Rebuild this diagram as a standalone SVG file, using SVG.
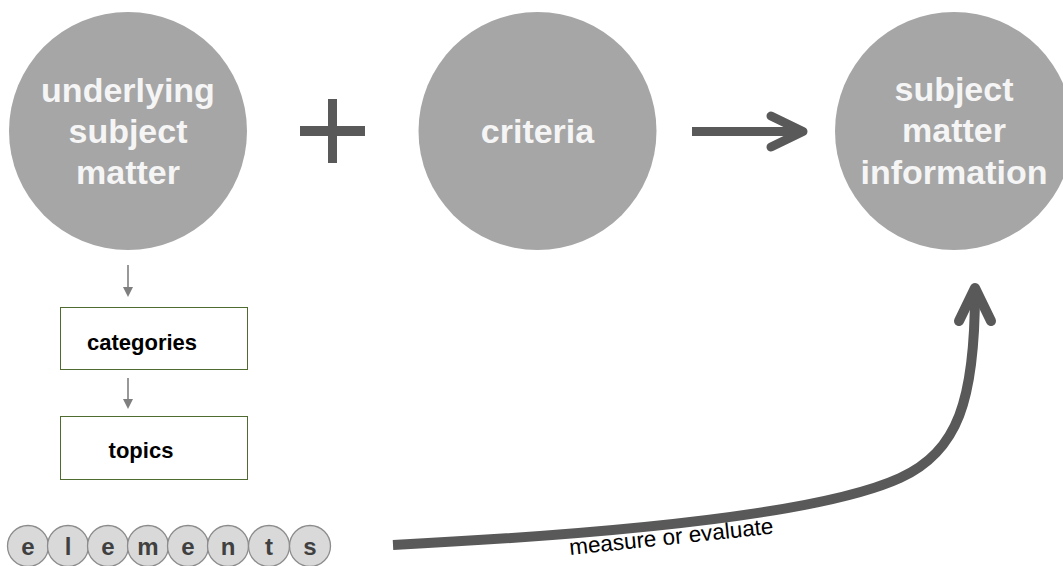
<svg xmlns="http://www.w3.org/2000/svg" width="1063" height="566" viewBox="0 0 1063 566">
<defs>
<style>
.big{fill:#a6a6a6}
.bt{font-family:"Liberation Sans",Arial,sans-serif;font-weight:bold;font-size:34px;fill:#f5f5f5;text-anchor:middle}
.box{fill:#fff;stroke:#4f6b2f;stroke-width:1}
.boxt{font-family:"Liberation Sans",Arial,sans-serif;font-weight:bold;font-size:22px;fill:#000;text-anchor:middle}
.lc{fill:#d9d9d9;stroke:#8c8c8c;stroke-width:1.3}
.lt{font-family:"Liberation Sans",Arial,sans-serif;font-weight:bold;font-size:24px;fill:#404040;text-anchor:middle}
.thick{fill:none;stroke:#595959;stroke-width:9;stroke-linecap:round;stroke-linejoin:round}
.thin{fill:none;stroke:#7f7f7f;stroke-width:1.6}
</style>
<marker id="sa" markerWidth="10" markerHeight="10" refX="5" refY="5" orient="auto" markerUnits="userSpaceOnUse">
<path d="M0,0 L10,5 L0,10 Z" fill="#7f7f7f"/>
</marker>
</defs>
<rect width="1063" height="566" fill="#fff"/>
<g id="node-underlying">
<circle class="big" cx="128" cy="131" r="119"/>
<text class="bt" x="128" y="102">underlying</text>
<text class="bt" x="128" y="143">subject</text>
<text class="bt" x="128" y="184">matter</text>
</g>
<g id="plus">
<rect x="328" y="99" width="9" height="64" fill="#595959"/>
<rect x="300" y="126" width="65" height="10" fill="#595959"/>
</g>
<g id="node-criteria">
<circle class="big" cx="537.5" cy="131" r="119"/>
<text class="bt" x="537.5" y="143">criteria</text>
</g>
<g id="node-smi">
<circle class="big" cx="954" cy="131" r="119"/>
<text class="bt" x="954" y="101">subject</text>
<text class="bt" x="954" y="142">matter</text>
<text class="bt" x="954" y="184">information</text>
</g>
<g id="node-categories">
<rect class="box" x="60.5" y="307.5" width="187" height="62"/>
<text class="boxt" x="142" y="350">categories</text>
</g>
<g id="node-topics">
<rect class="box" x="60.5" y="416.5" width="187" height="63"/>
<text class="boxt" x="141" y="458">topics</text>
</g>
<g id="node-elements">
<circle class="lc" cx="28" cy="546" r="20.5"/>
<circle class="lc" cx="68" cy="546" r="20.5"/>
<circle class="lc" cx="108" cy="546" r="20.5"/>
<circle class="lc" cx="148" cy="546" r="20.5"/>
<circle class="lc" cx="188" cy="546" r="20.5"/>
<circle class="lc" cx="228" cy="546" r="20.5"/>
<circle class="lc" cx="269" cy="546" r="20.5"/>
<circle class="lc" cx="310" cy="546" r="20.5"/>
<text class="lt" x="28" y="555">e</text>
<text class="lt" x="68" y="555">l</text>
<text class="lt" x="108" y="555">e</text>
<text class="lt" x="148" y="555">m</text>
<text class="lt" x="188" y="555">e</text>
<text class="lt" x="228" y="555">n</text>
<text class="lt" x="269" y="555">t</text>
<text class="lt" x="310" y="555">s</text>
</g>
<g id="connectors">
<line class="thin" x1="128" y1="265" x2="128" y2="292" marker-end="url(#sa)"/>
<line class="thin" x1="128" y1="378" x2="128" y2="404" marker-end="url(#sa)"/>
<path class="thick" d="M692,131.5 H800" style="stroke-linecap:butt"/>
<path class="thick" d="M771,116 L803,131.5 L771,147"/>
<path class="thick" d="M393,545 C650,532 830,510 900,478 C958,451.5 975,400 975,291" style="stroke-linecap:butt;stroke-width:10"/>
<path class="thick" d="M959,321 L975,288 L991,321" style="stroke-width:10"/>
<text x="570" y="555" transform="rotate(-6 570 555)" font-family="'Liberation Sans',Arial,sans-serif" font-size="22.5" fill="#000">measure or evaluate</text>
</g>
</svg>
